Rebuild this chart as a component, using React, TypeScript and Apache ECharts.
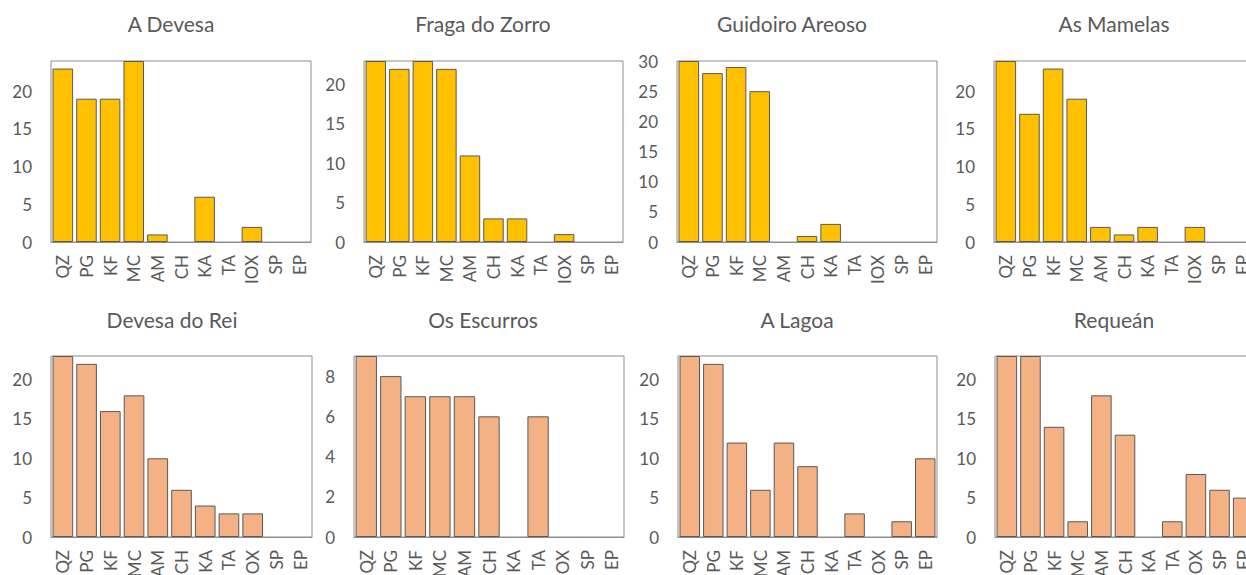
import React, { useEffect, useRef } from "react";
import * as echarts from "echarts";

// Mineral / rock categories along each x axis
const categories = ["QZ", "PG", "KF", "MC", "AM", "CH", "KA", "TA", "IOX", "SP", "EP"];

// Site names (one panel each)
const siteNames = [
  "A Devesa",
  "Fraga do Zorro",
  "Guidoiro Areoso",
  "As Mamelas",
  "Devesa do Rei",
  "Os Escurros",
  "A Lagoa",
  "Requeán",
];

// Counts per category for each site
const aDevesa = [23, 19, 19, 24, 1, 0, 6, 0, 2, 0, 0];
const fragaDoZorro = [23, 22, 23, 22, 11, 3, 3, 0, 1, 0, 0];
const guidoiroAreoso = [30, 28, 29, 25, 0, 1, 3, 0, 0, 0, 0];
const asMamelas = [24, 17, 23, 19, 2, 1, 2, 0, 2, 0, 0];
const devesaDoRei = [23, 22, 16, 18, 10, 6, 4, 3, 3, 0, 0];
const osEscurros = [9, 8, 7, 7, 7, 6, 0, 6, 0, 0, 0];
const aLagoa = [23, 22, 12, 6, 12, 9, 0, 3, 0, 2, 10];
const requean = [23, 23, 14, 2, 18, 13, 0, 2, 8, 6, 5];

// Value-axis ranges per panel
const axisMax = [24, 23, 30, 24, 23, 9, 23, 23];
const axisStep = [5, 5, 5, 5, 5, 2, 5, 5];

const siteValues = [aDevesa, fragaDoZorro, guidoiroAreoso, asMamelas, devesaDoRei, osEscurros, aLagoa, requean];

// Panel geometry (pixels); the right-hand column runs past the visible page edge
const panelLeft = [51, 364, 677, 994, 51, 354, 678, 995];
const panelWidth = [260, 259, 260, 260, 261, 270, 259, 260];
const rowTop = [61, 356];
const panelHeight = 181;
const titleCenterX = [166, 478, 787, 1109, 167, 478, 792, 1109];
const titleTop = [8, 304];

const FONT = "Lato";
const TEXT_GRAY = "#595959";
const FRAME_GRAY = "#8c8c8c";
const BAR_EDGE = "#5a5a5a";
const rowColors = ["#FFC000", "#F4B183"];

export default function App() {
  const ref = useRef<HTMLDivElement>(null);

  useEffect(() => {
    if (!ref.current) return;
    const chart = echarts.init(ref.current, undefined, { renderer: "svg" });

    const grids: any[] = [];
    const xAxes: any[] = [];
    const yAxes: any[] = [];
    const series: any[] = [];
    const titles: any[] = [];

    siteNames.forEach((name, i) => {
      const row = i < 4 ? 0 : 1;
      grids.push({
        left: panelLeft[i],
        top: rowTop[row],
        width: panelWidth[i],
        height: panelHeight,
        // keep the plot boxes at their exact size even where labels run off the page
        outerBoundsMode: "none",
        containLabel: false,
        show: true,
        borderColor: FRAME_GRAY,
        borderWidth: 1,
        backgroundColor: "transparent",
      });
      xAxes.push({
        type: "category",
        gridIndex: i,
        data: categories,
        axisLine: { show: true, lineStyle: { color: FRAME_GRAY, width: 1 } },
        axisTick: { show: false },
        axisLabel: {
          rotate: 90,
          interval: 0,
          margin: 13,
          color: TEXT_GRAY,
          fontSize: 17,
          fontFamily: FONT,
        },
        splitLine: { show: false },
      });
      yAxes.push({
        type: "value",
        gridIndex: i,
        min: 0,
        max: axisMax[i],
        interval: axisStep[i],
        axisLine: { show: false },
        axisTick: { show: false },
        splitLine: { show: false },
        axisLabel: {
          margin: 19,
          color: TEXT_GRAY,
          fontSize: 17,
          fontFamily: FONT,
          showMaxLabel: axisMax[i] % axisStep[i] === 0,
        },
      });
      series.push({
        type: "bar",
        xAxisIndex: i,
        yAxisIndex: i,
        // empty categories get no outline so no flat stroke sits on the axis
        data: siteValues[i].map((v) => (v === 0 ? { value: v, itemStyle: { borderWidth: 0 } } : v)),
        barCategoryGap: "13%",
        itemStyle: {
          color: rowColors[row],
          borderColor: BAR_EDGE,
          borderWidth: 1,
        },
      });
      titles.push({
        text: name,
        left: titleCenterX[i],
        top: titleTop[row],
        textAlign: "center",
        textStyle: {
          color: TEXT_GRAY,
          fontSize: 21,
          fontWeight: "normal",
          fontFamily: FONT,
        },
      });
    });

    chart.setOption({
      animation: false,
      backgroundColor: "#ffffff",
      title: titles,
      grid: grids,
      xAxis: xAxes,
      yAxis: yAxes,
      series,
    });

    return () => chart.dispose();
  }, []);

  return (
    <div
      ref={ref}
      style={{ position: "fixed", left: 0, top: 0, width: 1246, height: 575, background: "#fff" }}
    />
  );
}
